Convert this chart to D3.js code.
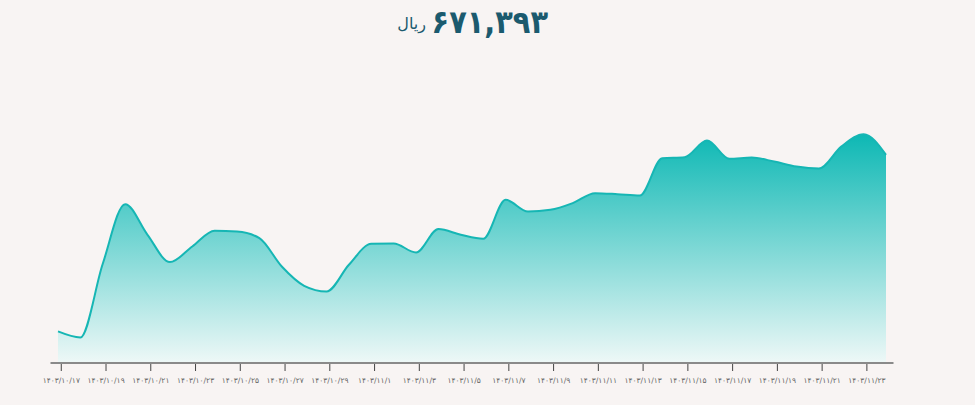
<!DOCTYPE html>
<html lang="fa">
<head>
<meta charset="utf-8">
<script src="https://cdn.jsdelivr.net/npm/d3@7"></script>
<style>
  html, body { margin: 0; padding: 0; background: #f8f4f3; }
  svg { display: block; }
</style>
</head>
<body>
<div id="chart"></div>
<script>
// daily dates (jalali) and price in rial
const days = [
  "1403/10/17", "1403/10/18", "1403/10/19", "1403/10/20", "1403/10/21", "1403/10/22",
  "1403/10/23", "1403/10/24", "1403/10/25", "1403/10/26", "1403/10/27", "1403/10/28",
  "1403/10/29", "1403/10/30", "1403/11/1", "1403/11/2", "1403/11/3", "1403/11/4",
  "1403/11/5", "1403/11/6", "1403/11/7", "1403/11/8", "1403/11/9", "1403/11/10",
  "1403/11/11", "1403/11/12", "1403/11/13", "1403/11/14", "1403/11/15", "1403/11/16",
  "1403/11/17", "1403/11/18", "1403/11/19", "1403/11/20", "1403/11/21", "1403/11/22",
  "1403/11/23", "1403/11/24"
];
const prices = [
  101800, 82500, 320000, 512500, 413500, 325500,
  375800, 426400, 424200, 402900, 311300, 249100,
  230800, 316800, 384500, 385500, 356500, 431900,
  413500, 400600, 526300, 488600, 494100, 515700,
  547900, 544700, 540200, 660700, 663900, 717400,
  658500, 662700, 649800, 633600, 627200, 698100,
  738100, 671393
];
const currency = "ریال";

const faDigits = "۰۱۲۳۴۵۶۷۸۹";
function toFa(s) {
  return String(s).replace(/[0-9]/g, d => faDigits[+d]);
}

const W = 975, H = 405;
const margin = {top: 84, right: 89, bottom: 42, left: 58};
const width = W - margin.left - margin.right;
const height = H - margin.top - margin.bottom;

const svg = d3.select("#chart")
  .append("svg")
  .attr("width", W)
  .attr("height", H);

// title: last price
svg.append("text")
  .attr("x", 548)
  .attr("y", 33)
  .attr("text-anchor", "end")
  .attr("font-family", "DejaVu Sans Condensed, DejaVu Sans, sans-serif")
  .attr("font-size", 32)
  .attr("font-weight", "bold")
  .attr("fill", "#1b5a6e")
  .text(toFa(d3.format(",")(prices[prices.length - 1])));

svg.append("text")
  .attr("x", 426)
  .attr("y", 29)
  .attr("text-anchor", "end")
  .attr("font-family", "DejaVu Sans, sans-serif")
  .attr("font-size", 16)
  .attr("fill", "#1b5a6e")
  .text(currency);

const g = svg.append("g")
  .attr("transform", `translate(${margin.left},${margin.top})`);

const data = days.map((d, i) => ({i: i, date: d, value: prices[i]}));

const x = d3.scaleLinear()
  .domain([0, days.length - 1])
  .range([0, width]);

const y = d3.scaleLinear()
  .domain([0, 900000])
  .range([height, 0]);

const defs = svg.append("defs");
const grad = defs.append("linearGradient")
  .attr("id", "fillGrad")
  .attr("x1", 0).attr("y1", 0)
  .attr("x2", 0).attr("y2", 1);
grad.append("stop").attr("offset", "0%").attr("stop-color", "#0db8b4");
grad.append("stop").attr("offset", "100%").attr("stop-color", "#eef8f7");

const curve = d3.curveMonotoneX;

g.append("path")
  .datum(data)
  .attr("fill", "url(#fillGrad)")
  .attr("d", d3.area()
    .curve(curve)
    .x(d => x(d.i))
    .y0(height)
    .y1(d => y(d.value)));

g.append("path")
  .datum(data)
  .attr("fill", "none")
  .attr("stroke", "#16b6b4")
  .attr("stroke-width", 2)
  .attr("d", d3.line()
    .curve(curve)
    .x(d => x(d.i))
    .y(d => y(d.value)));

// x axis: ticks every 2 days, sitting at local midnight (+3:30)
const tickShift = 0.146;
const tickIdx = d3.range(0, days.length - 1, 2);
const axisPad = 7.5;

const axis = g.append("g")
  .attr("transform", `translate(0,${height})`);

axis.append("line")
  .attr("x1", -axisPad)
  .attr("x2", width + axisPad)
  .attr("stroke", "#8a8a8a")
  .attr("stroke-width", 2);

const ticks = axis.selectAll(".tick")
  .data(tickIdx)
  .join("g")
  .attr("class", "tick")
  .attr("transform", d => `translate(${x(d + tickShift)},0)`);

ticks.append("line")
  .attr("y1", 1)
  .attr("y2", 8)
  .attr("stroke", "#444")
  .attr("stroke-width", 1);

ticks.append("text")
  .attr("y", 20)
  .attr("text-anchor", "middle")
  .attr("font-family", "DejaVu Sans, sans-serif")
  .attr("font-size", 7.5)
  .attr("fill", "#666")
  .text(d => toFa(days[d]));
</script>
</body>
</html>
